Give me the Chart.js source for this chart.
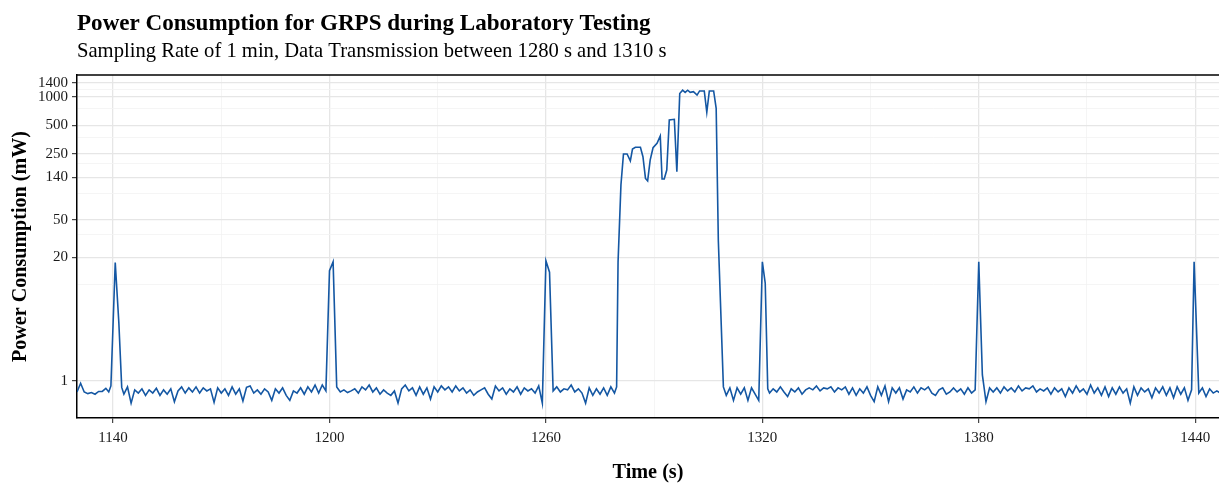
<!DOCTYPE html>
<html><head><meta charset="utf-8">
<script src="https://cdn.jsdelivr.net/npm/chart.js@4.4.1/dist/chart.umd.min.js"></script>
<style>html,body{margin:0;padding:0;background:#fff;overflow:hidden}</style>
</head><body>
<canvas id="c" width="1219" height="486"></canvas>
<script>
const chartTitle = 'Power Consumption for GRPS during Laboratory Testing';
const chartSubtitle = 'Sampling Rate of 1 min, Data Transmission between 1280 s and 1310 s';
const xAxisTitle = 'Time (s)';
const yAxisTitle = 'Power Consumption (mW)';
const yMajorTicks = [1, 20, 50, 140, 250, 500, 1000, 1400];
const yMinorTicks = [10.5, 35, 95, 195, 375, 750, 1200];
const xMajorTicks = [1140, 1200, 1260, 1320, 1380, 1440];
const xMinorTicks = [1170, 1230, 1290, 1350, 1410];

const times = [
 1130,1131,1132,1133,1134,1135,1136,1137,1138,1138.8,1139.4,1140.6,1141.6,1142.4,1143,1144,
 1145,1146,1147,1148,1149,1150,1151,1152,1153,1154,1155,1156,1157,1158,1159,1160,
 1161,1162,1163,1164,1165,1166,1167,1168,1169,1170,1171,1172,1173,1174,1175,1176,
 1177,1178,1179,1180,1181,1182,1183,1184,1185,1186,1187,1188,1189,1190,1191,1192,
 1193,1194,1195,1196,1197,1198,1199,1200,1201,1202,1203,1204,1205,1206,1207,1208,
 1209,1210,1211,1212,1213,1214,1215,1216,1217,1218,1219,1220,1221,1222,1223,1224,
 1225,1226,1227,1228,1229,1230,1231,1232,1233,1234,1235,1236,1237,1238,1239,1240,
 1241,1242,1243,1244,1245,1246,1247,1248,1249,1250,1251,1252,1253,1254,1255,1256,
 1257,1258,1259,1260,1261,1262,1263,1264,1265,1266,1267,1268,1269,1270,1271,1272,
 1273,1274,1275,1276,1277,1278,1279,1279.6,1280,1280.8,1281.5,1282.5,1283.4,1284,1284.8,1286.2,
 1286.9,1287.6,1288.2,1288.9,1289.7,1290.8,1291.7,1292.2,1292.8,1293.5,1294.2,1295.6,1296.3,1297.1,1297.9,1298.6,
 1299.3,1300,1300.9,1301.9,1302.6,1303.9,1304.6,1305.3,1306.5,1307.2,1307.8,1309.2,1310,1311,1312,1313,
 1314,1315,1316,1317,1318,1319,1320,1320.8,1321.5,1322,1323,1324,1325,1326,1327,1328,
 1329,1330,1331,1332,1333,1334,1335,1336,1337,1338,1339,1340,1341,1342,1343,1344,
 1345,1346,1347,1348,1349,1350,1351,1352,1353,1354,1355,1356,1357,1358,1359,1360,
 1361,1362,1363,1364,1365,1366,1367,1368,1369,1370,1371,1372,1373,1374,1375,1376,
 1377,1378,1379,1380,1381,1382,1383,1384,1385,1386,1387,1388,1389,1390,1391,1392,
 1393,1394,1395,1396,1397,1398,1399,1400,1401,1402,1403,1404,1405,1406,1407,1408,
 1409,1410,1411,1412,1413,1414,1415,1416,1417,1418,1419,1420,1421,1422,1423,1424,
 1425,1426,1427,1428,1429,1430,1431,1432,1433,1434,1435,1436,1437,1438,1439,1439.7,
 1441,1442,1443,1444,1445,1446,1447
];
const power = [
 0.76,0.94,0.76,0.73,0.75,0.72,0.77,0.77,0.83,0.76,0.88,17.7,4.1,0.85,0.72,0.86,
 0.58,0.80,0.74,0.82,0.70,0.80,0.74,0.83,0.70,0.80,0.72,0.82,0.60,0.78,0.86,0.74,
 0.84,0.76,0.86,0.74,0.84,0.78,0.82,0.59,0.84,0.74,0.82,0.70,0.86,0.72,0.82,0.61,
 0.85,0.88,0.74,0.80,0.72,0.82,0.76,0.62,0.82,0.74,0.84,0.70,0.62,0.78,0.74,0.84,
 0.72,0.86,0.76,0.90,0.74,0.90,0.78,14.5,18,0.86,0.76,0.80,0.75,0.78,0.82,0.74,
 0.86,0.80,0.90,0.76,0.84,0.72,0.80,0.74,0.70,0.78,0.58,0.82,0.90,0.78,0.84,0.70,
 0.86,0.72,0.84,0.64,0.86,0.76,0.88,0.80,0.86,0.76,0.88,0.78,0.84,0.74,0.80,0.70,
 0.76,0.80,0.84,0.72,0.64,0.88,0.78,0.84,0.72,0.82,0.76,0.86,0.72,0.84,0.78,0.82,
 0.74,0.88,0.58,18.5,14,0.78,0.86,0.76,0.82,0.80,0.90,0.76,0.82,0.74,0.58,0.84,
 0.70,0.82,0.72,0.84,0.70,0.86,0.74,0.86,18,117,248,248,210,280,292,292,
 232,137,129,214,289,322,385,135,135,168,568,577,161,1080,1170,1110,
 1170,1110,1130,1040,1150,1150,684,1150,1150,754,30,0.86,0.70,0.84,0.62,0.84,
 0.72,0.84,0.62,0.84,0.72,0.62,18,10.7,0.82,0.74,0.82,0.76,0.86,0.76,0.68,0.82,
 0.76,0.84,0.72,0.80,0.84,0.80,0.88,0.78,0.84,0.82,0.86,0.76,0.84,0.80,0.86,0.72,
 0.84,0.70,0.82,0.74,0.86,0.70,0.60,0.86,0.70,0.88,0.60,0.84,0.74,0.84,0.64,0.80,
 0.76,0.86,0.74,0.84,0.80,0.86,0.74,0.70,0.80,0.84,0.72,0.76,0.84,0.76,0.82,0.72,
 0.84,0.74,0.80,18,1.15,0.60,0.84,0.76,0.84,0.74,0.86,0.78,0.84,0.76,0.88,0.78,
 0.84,0.82,0.88,0.76,0.82,0.78,0.84,0.72,0.84,0.76,0.82,0.68,0.84,0.74,0.88,0.76,
 0.82,0.72,0.90,0.74,0.84,0.70,0.86,0.68,0.84,0.72,0.86,0.74,0.82,0.58,0.86,0.70,
 0.84,0.76,0.82,0.66,0.84,0.74,0.86,0.70,0.84,0.66,0.86,0.72,0.84,0.62,0.80,18,
 0.74,0.84,0.68,0.82,0.74,0.78,0.74
];

const SERIF = '"Liberation Serif", "DejaVu Serif", serif';
const COLOR_LINE = '#1457A3';
const TARGET = { title: 574, subtitle: 590, yTitle: 231, xTitle: 71 };

const measureCtx = document.createElement('canvas').getContext('2d');
function fitSize(text, weight, target, base) {
  measureCtx.font = weight + ' ' + base + 'px ' + SERIF;
  const w = measureCtx.measureText(text).width;
  return base * target / w;
}
const titleSize = fitSize(chartTitle, 'bold', TARGET.title, 22);
const subSize = fitSize(chartSubtitle, 'normal', TARGET.subtitle, 17);
const yTitleSize = fitSize(yAxisTitle, 'bold', TARGET.yTitle, 18);
const xTitleSize = fitSize(xAxisTitle, 'bold', TARGET.xTitle, 18);

const isMajorY = v => yMajorTicks.some(m => Math.abs(m - v) < 1e-6);
const isMajorX = v => xMajorTicks.includes(v);

const titlesPlugin = {
  id: 'titles',
  afterDraw(chart) {
    const c = chart.ctx, a = chart.chartArea;
    c.save();
    c.fillStyle = '#000';
    c.textAlign = 'left';
    c.textBaseline = 'alphabetic';
    c.font = 'bold ' + titleSize + 'px ' + SERIF;
    c.fillText(chartTitle, 77, 30);
    c.font = 'normal ' + subSize + 'px ' + SERIF;
    c.fillText(chartSubtitle, 77, 57);
    c.strokeStyle = '#000';
    c.lineWidth = 1.5;
    c.beginPath();
    c.moveTo(a.left - 0.75, a.top);
    c.lineTo(a.right, a.top);
    c.stroke();
    c.restore();
  }
};

const points = times.map((t, i) => ({ x: t, y: power[i] }));

new Chart(document.getElementById('c'), {
  type: 'line',
  data: { datasets: [{ data: points, borderColor: COLOR_LINE, borderWidth: 1.6, pointRadius: 0, tension: 0, fill: false }] },
  options: {
    responsive: false,
    animation: false,
    devicePixelRatio: 1,
    layout: { padding: { top: 75, right: 0, bottom: 0, left: 0 } },
    plugins: { legend: { display: false }, tooltip: { enabled: false }, title: { display: false } },
    scales: {
      x: {
        type: 'linear', min: 1130, max: 1446.6,
        afterBuildTicks: s => { s.ticks = [...xMajorTicks, ...xMinorTicks].sort((a, b) => a - b).map(v => ({ value: v })); },
        afterFit: s => { s.height = 68; },
        ticks: { autoSkip: false, maxRotation: 0, padding: 6, color: '#1a1a1a', font: { family: SERIF, size: 15 },
                 callback: v => isMajorX(v) ? String(v) : '' },
        grid: { color: c => isMajorX(c.tick.value) ? '#E6E6E6' : '#F2F2F2', lineWidth: c => isMajorX(c.tick.value) ? 1.3 : 0.8,
                tickLength: 5, tickColor: c => isMajorX(c.tick.value) ? '#333' : 'rgba(0,0,0,0)', tickWidth: 1.1 },
        border: { display: true, color: '#000', width: 1.5 },
        title: { display: true, text: xAxisTitle, color: '#000', font: { family: SERIF, size: xTitleSize, weight: 'bold' }, padding: { top: 0, bottom: 1 } }
      },
      y: {
        type: 'logarithmic', min: 0.4036, max: 1694,
        afterBuildTicks: s => { s.ticks = [...yMajorTicks, ...yMinorTicks].sort((a, b) => a - b).map(v => ({ value: v })); },
        afterFit: s => { s.width = 77; },
        ticks: { autoSkip: false, padding: 4, color: '#1a1a1a', font: { family: SERIF, size: 15 },
                 callback: v => isMajorY(v) ? String(v) : '' },
        grid: { color: c => isMajorY(c.tick.value) ? '#E6E6E6' : '#F2F2F2', lineWidth: c => isMajorY(c.tick.value) ? 1.3 : 0.8,
                tickLength: 5, tickColor: c => isMajorY(c.tick.value) ? '#333' : 'rgba(0,0,0,0)', tickWidth: 1.1 },
        border: { display: true, color: '#000', width: 1.5 },
        title: { display: true, text: yAxisTitle, color: '#000', font: { family: SERIF, size: yTitleSize, weight: 'bold' }, padding: { top: 9, bottom: 0 } }
      }
    }
  },
  plugins: [titlesPlugin]
});
</script>
</body></html>
